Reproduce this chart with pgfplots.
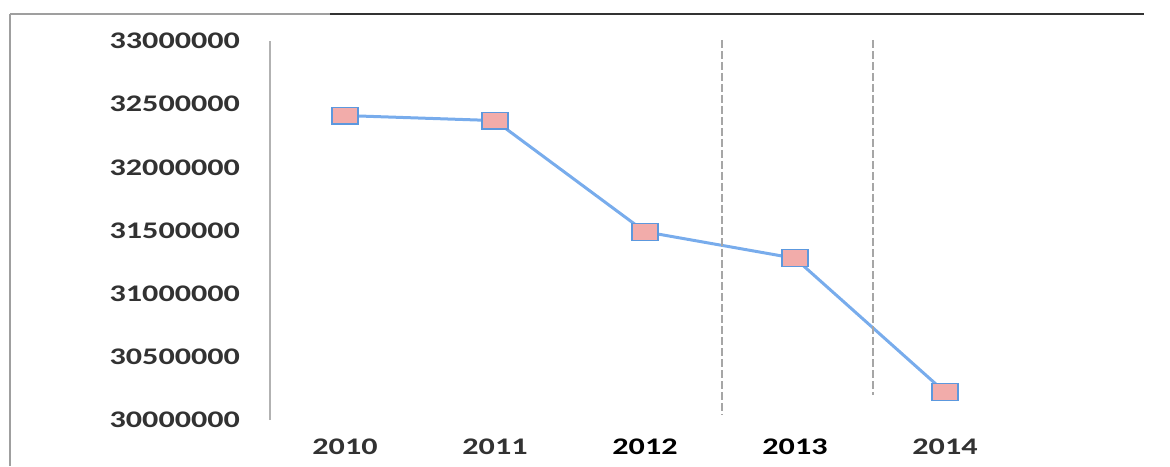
\documentclass[border=0pt]{standalone}
\usepackage{fontspec}
\setmainfont{Carlito}
\newfontfamily\tickfont[FakeStretch=1.35]{Carlito}
\usepackage{pgfplots}
\pgfplotsset{compat=1.18}
\definecolor{linecol}{RGB}{120,172,236}
\definecolor{markfill}{RGB}{242,172,170}
\definecolor{markdraw}{RGB}{92,152,222}
\definecolor{labcol}{RGB}{50,50,50}

\begin{document}
\begin{tikzpicture}
\begin{axis}[
  at={(135pt,23pt)}, anchor=south west,
  scale only axis,
  width=375pt, height=189.5pt,
  xmin=-0.5, xmax=4.5,
  ymin=30000000, ymax=33000000,
  xtick={0,1,2,3,4},
  xticklabels={2010,2011,{\color{black}2012},{\color{black}2013},2014},
  ytick={30000000,30500000,31000000,31500000,32000000,32500000,33000000},
  scaled y ticks=false,
  /pgf/number format/.cd, fixed, 1000 sep={}, assume math mode=true,
  /pgfplots/.cd,
  axis lines=left,
  axis line style={-},
  x axis line style={draw=none},
  y axis line style={gray!60, line width=0.8pt},
  major tick length=0pt,
  yticklabel style={font=\tickfont\bfseries\fontsize{11.9}{14}\selectfont, text=labcol, anchor=east, xshift=-11.5pt},
  xticklabel style={font=\tickfont\bfseries\fontsize{11.9}{14}\selectfont, text=labcol, anchor=north, yshift=-6pt},
  clip=false,
]
\addplot[linecol, line width=1.5pt, mark=square*,
  mark options={fill=markfill, draw=markdraw, line width=0.6pt, xscale=1.55}, mark size=4.2pt]
  coordinates {
  (0,32410000) (1,32370000) (2,31490000) (3,31280000) (4,30220000)
};
\end{axis}

% scan frame
\draw[gray!75, line width=0.8pt] (5pt,226pt) -- (165pt,226pt);
\draw[black!80, line width=0.8pt] (165pt,226pt) -- (572pt,226pt);
\draw[gray!75, line width=0.8pt] (5pt,226pt) -- (5pt,0pt);

% scan artefacts
\draw[gray!70, line width=0.6pt, dash pattern=on 4pt off 1.5pt] (361pt,213pt) -- (361pt,25.5pt);
\draw[gray!70, line width=0.6pt, dash pattern=on 4pt off 1.5pt] (436.5pt,213pt) -- (436.5pt,35.5pt);

\pgfresetboundingbox
\path[use as bounding box] (0pt,0pt) rectangle (585pt,233pt);
\end{tikzpicture}
\end{document}
